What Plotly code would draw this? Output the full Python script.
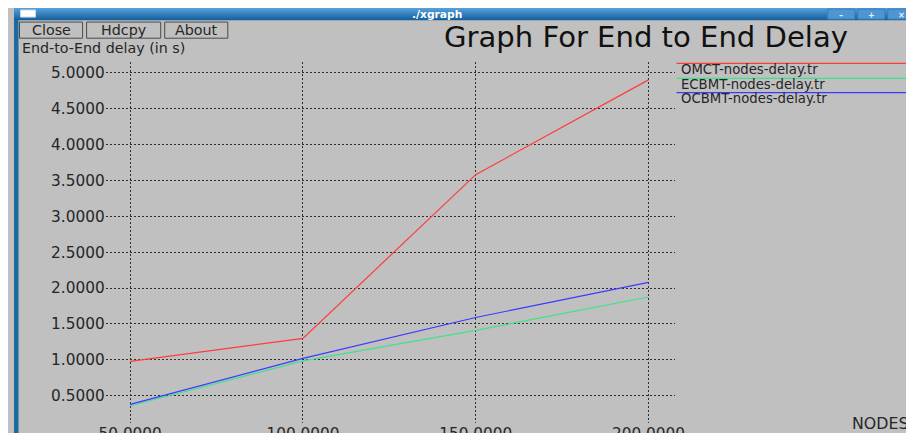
import plotly.graph_objects as go

# ---------------- data ----------------
nodes = [50, 100, 150, 200]
series_names = ["OMCT-nodes-delay.tr", "ECBMT-nodes-delay.tr", "OCBMT-nodes-delay.tr"]
omct_delay = [0.98, 1.30, 3.58, 4.90]
ecbmt_delay = [0.36, 0.985, 1.41, 1.875]
ocbmt_delay = [0.38, 1.02, 1.59, 2.08]
series_colors = ["#ff3c3c", "#3ee28a", "#3a3aff"]
y_ticks = [0.5, 1.0, 1.5, 2.0, 2.5, 3.0, 3.5, 4.0, 4.5, 5.0]
x_ticks = [50, 100, 150, 200]
title_text = "Graph For End to End Delay"
y_label = "End-to-End delay (in s)"
x_label = "NODES"
window_title = "./xgraph"
button_labels = ["Close", "Hdcpy", "About"]

# ---------------- geometry helpers ----------------
# Empirical mapping between figure pixels and the photographed picture:
# screen = offset + scale * figure
SCALE = 0.98
OX, OY = 14.5, 8.0
SW, SH = 914, 433
FW = int((SW - OX) / SCALE) + 2
FH = int((SH - OY) / SCALE) + 2
def px(x):
    return ((x - OX) / SCALE) / FW
def py(y):
    return 1 - ((y - OY) / SCALE) / FH
def fs(s):
    return s / SCALE

GRAY = "#c0c0c0"
FONT = "DejaVu Sans"
TXT = "#262626"

fig = go.Figure()
for name, vals, col in zip(series_names, [omct_delay, ecbmt_delay, ocbmt_delay], series_colors):
    fig.add_trace(go.Scatter(x=nodes, y=vals, mode="lines", name=name,
                             line=dict(color=col, width=1.2), showlegend=False))

shapes = []
def rect(x0, y0, x1, y1, fill=None, line=None, lw=0, layer="below"):
    shapes.append(dict(type="rect", xref="paper", yref="paper",
                       x0=px(x0), x1=px(x1), y0=py(y1), y1=py(y0),
                       fillcolor=fill if fill else "rgba(0,0,0,0)",
                       line=dict(color=line if line else "rgba(0,0,0,0)", width=lw),
                       layer=layer))

# title bar gradient
top_c = (86, 160, 218)
bot_c = (22, 98, 160)
n = 12
for i in range(n):
    t = i / (n - 1)
    c = tuple(int(top_c[k] + (bot_c[k] - top_c[k]) * t) for k in range(3))
    rect(OX - 1, 8 + i, SW + 5, 9.2 + i, fill="rgb(%d,%d,%d)" % c)
# left window border
rect(OX - 1, 20, OX + 3.5, SH + 5, fill="#1c6a9e")
# window icon
rect(20, 10, 35, 17, fill="white", line="#c8d8e8", lw=1)
# title-bar buttons
bar_btn_x = [826, 856, 886]
for gx in bar_btn_x:
    rect(gx, 9, gx + 27, 19, fill="#4f95d2", line="#3a7fbf", lw=1)

# xgraph buttons
btn_boxes = [(19, 22, 82, 38), (86, 22, 160, 38), (164, 22, 227, 38)]
for (x0, y0, x1, y1) in btn_boxes:
    rect(x0, y0, x1, y1, fill=GRAY, line="#4a4a4a", lw=1, layer="above")

# legend lines
leg_y = [63, 78, 92]
for i, col in enumerate(series_colors):
    shapes.append(dict(type="line", xref="paper", yref="paper",
                       x0=px(675), x1=px(SW + 5), y0=py(leg_y[i]), y1=py(leg_y[i]),
                       line=dict(color=col, width=1.2)))

annotations = []
def text(x, y, s, size=15, color=TXT, xanchor="left", bold=False):
    annotations.append(dict(xref="paper", yref="paper", x=px(x), y=py(y),
                            text=("<b>%s</b>" % s) if bold else s, showarrow=False,
                            xanchor=xanchor, yanchor="middle",
                            font=dict(family=FONT, size=fs(size), color=color)))

text(436, 14, window_title, size=10.5, color="white", xanchor="center", bold=True)
for gx, g in zip(bar_btn_x, ["\u2013", "+", "\u00d7"]):
    text(gx + 13.5, 14.5, g, size=8, color="#e8f2fb", xanchor="center", bold=True)
for (x0, y0, x1, y1), lab in zip(btn_boxes, button_labels):
    text((x0 + x1) / 2, 30, lab, size=14, xanchor="center")
text(19, 48, y_label, size=14)
text(645, 37, title_text, size=28.5, color="#111111", xanchor="center")
text(848, 421, x_label, size=15.5)
for i, nm in enumerate(series_names):
    text(677, leg_y[i] + 6, nm, size=13)

# axis mapping: pixel extents of the plotting area (screen pixels)
x_px0, x_px1 = 105, 673
y_px0, y_px1 = 62, 420
x_per_px = (x_ticks[-1] - x_ticks[0]) / (647 - 129.5)
y_per_px = (y_ticks[-1] - y_ticks[0]) / (393.3 - 72.3)
x_range = [x_ticks[0] - (129.5 - x_px0) * x_per_px, x_ticks[-1] + (x_px1 - 647) * x_per_px]
y_range = [y_ticks[0] - (y_px1 - 393.3) * y_per_px, y_ticks[-1] + (72.3 - y_px0) * y_per_px]

grid = dict(showgrid=True, gridcolor="#2e2e2e", gridwidth=1, griddash="2px,2px",
            zeroline=False, showline=False, ticks="", tickformat=".4f",
            tickfont=dict(family=FONT, size=fs(15), color=TXT))

fig.update_layout(
    width=FW, height=FH,
    margin=dict(l=0, r=0, t=0, b=0),
    paper_bgcolor=GRAY, plot_bgcolor="rgba(0,0,0,0)",
    showlegend=False,
    xaxis=dict(domain=[px(x_px0), px(x_px1)], range=x_range, tickvals=x_ticks, **grid),
    yaxis=dict(domain=[py(y_px1), py(y_px0)], range=y_range, tickvals=y_ticks, **grid),
    shapes=shapes, annotations=annotations,
)

fig.write_html("out.html")
